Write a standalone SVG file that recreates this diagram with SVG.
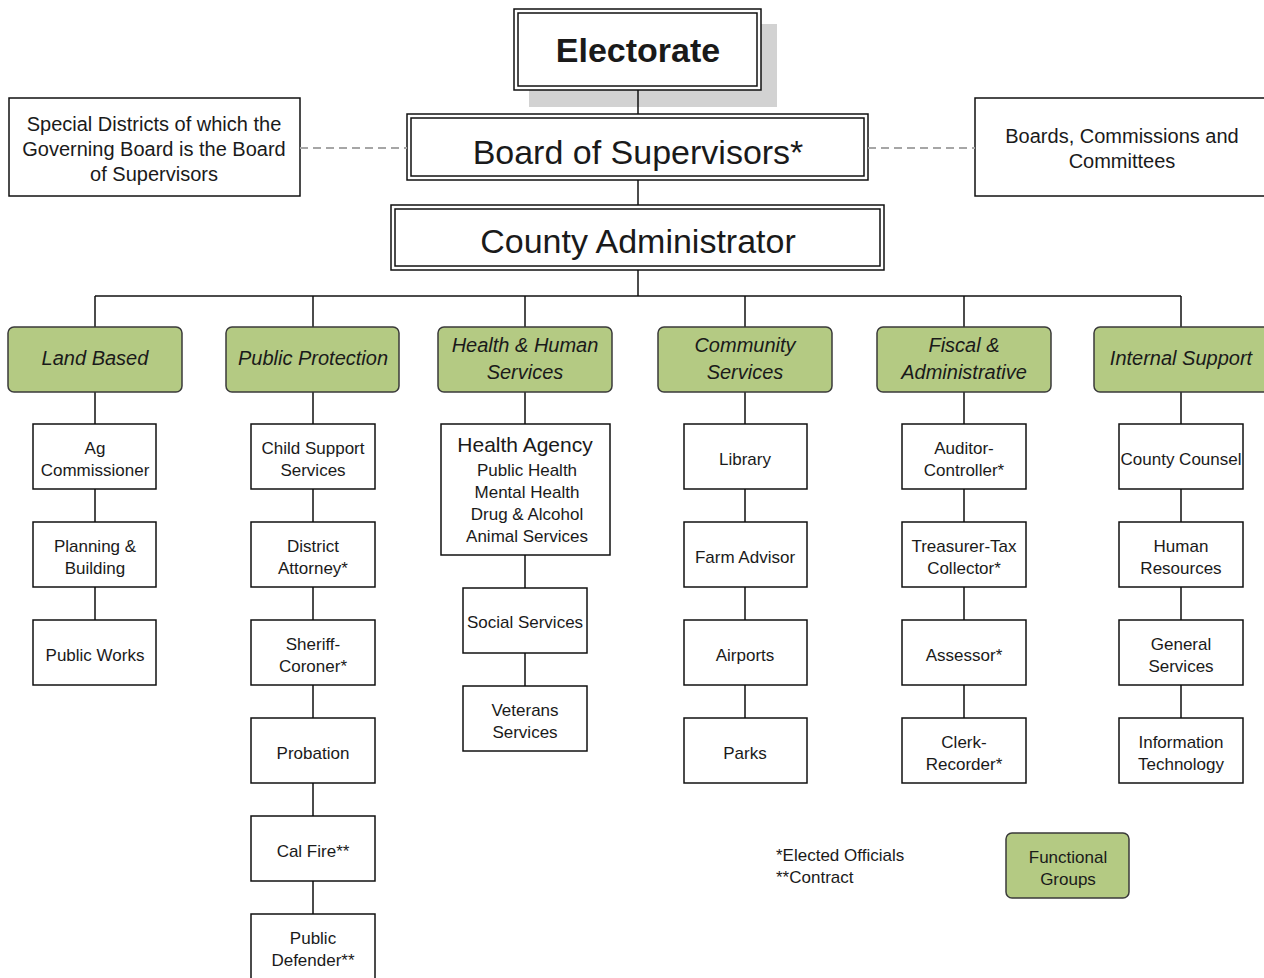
<svg xmlns="http://www.w3.org/2000/svg" width="1264" height="978" viewBox="0 0 1264 978">
<style>
text{font-family:"Liberation Sans",Arial,sans-serif;fill:#1a1a1a;text-anchor:middle}
.box{fill:#fff;stroke:#111;stroke-width:1.5}
.dbl{fill:none;stroke:#111;stroke-width:1.5}
.grp{fill:#b4ca83;stroke:#3a3a3a;stroke-width:1.5}
.gt{font-size:20px;font-style:italic}
.st{font-size:17px}
.big{font-size:34px}
.line{stroke:#111;stroke-width:1.5;fill:none}
.dash{stroke:#a6a6a6;stroke-width:2;stroke-dasharray:8 5;fill:none}
</style>
<rect x="0" y="0" width="1264" height="978" fill="#fff"/>
<g id="electorate">
<rect x="529" y="24" width="248" height="83" fill="#d2d2d2"/>
<rect class="box" x="514" y="9" width="247" height="81"/>
<rect class="dbl" x="518" y="13" width="239" height="73"/>
<text x="638" y="62" style="font-size:34px;font-weight:bold">Electorate</text>
</g>
<g id="board">
<rect class="box" x="407" y="114" width="461" height="66" stroke-width="2"/>
<rect class="dbl" x="411" y="118" width="453" height="58"/>
<text class="big" x="638" y="164">Board of Supervisors*</text>
</g>
<g id="county-admin">
<rect class="box" x="391" y="205" width="493" height="65" stroke-width="2"/>
<rect class="dbl" x="395" y="209" width="485" height="57"/>
<text class="big" x="638" y="253">County Administrator</text>
</g>
<g id="special-districts">
<rect class="box" x="9" y="98" width="291" height="98"/>
<text x="154" y="131" style="font-size:20px">Special Districts of which the</text>
<text x="154" y="156" style="font-size:20px">Governing Board is the Board</text>
<text x="154" y="181" style="font-size:20px">of Supervisors</text>
</g>
<g id="boards-commissions">
<rect class="box" x="975" y="98" width="300" height="98"/>
<text x="1122" y="143" style="font-size:20px">Boards, Commissions and</text>
<text x="1122" y="168" style="font-size:20px">Committees</text>
</g>
<g id="connectors">
<line class="dash" x1="300" y1="148" x2="407" y2="148"/>
<line class="dash" x1="868" y1="148" x2="975" y2="148"/>
<line class="line" x1="638" y1="90" x2="638" y2="114"/>
<line class="line" x1="638" y1="180" x2="638" y2="205"/>
<line class="line" x1="638" y1="270" x2="638" y2="296"/>
<line class="line" x1="95" y1="296" x2="1181" y2="296"/>
<line class="line" x1="95" y1="296" x2="95" y2="327"/>
<line class="line" x1="313" y1="296" x2="313" y2="327"/>
<line class="line" x1="525" y1="296" x2="525" y2="327"/>
<line class="line" x1="745" y1="296" x2="745" y2="327"/>
<line class="line" x1="964" y1="296" x2="964" y2="327"/>
<line class="line" x1="1181" y1="296" x2="1181" y2="327"/>
<path class="line" d="M95 392V424M95 489V522M95 587V620"/>
<path class="line" d="M313 392V424M313 489V522M313 587V620M313 685V718M313 783V816M313 881V914"/>
<path class="line" d="M525 392V424M525 555V588M525 653V686"/>
<path class="line" d="M745 392V424M745 489V522M745 587V620M745 685V718"/>
<path class="line" d="M964 392V424M964 489V522M964 587V620M964 685V718"/>
<path class="line" d="M1181 392V424M1181 489V522M1181 587V620M1181 685V718"/>
</g>
<g id="land-based">
<rect class="grp" x="8" y="327" width="174" height="65" rx="6"/>
<text class="gt" x="95" y="365">Land Based</text>
</g>
<g id="public-protection">
<rect class="grp" x="226" y="327" width="173" height="65" rx="6"/>
<text class="gt" x="313" y="365">Public Protection</text>
</g>
<g id="health-human">
<rect class="grp" x="438" y="327" width="174" height="65" rx="6"/>
<text class="gt" x="525" y="352">Health &amp; Human</text>
<text class="gt" x="525" y="379">Services</text>
</g>
<g id="community">
<rect class="grp" x="658" y="327" width="174" height="65" rx="6"/>
<text class="gt" x="745" y="352">Community</text>
<text class="gt" x="745" y="379">Services</text>
</g>
<g id="fiscal">
<rect class="grp" x="877" y="327" width="174" height="65" rx="6"/>
<text class="gt" x="964" y="352">Fiscal &amp;</text>
<text class="gt" x="964" y="379">Administrative</text>
</g>
<g id="internal-support">
<rect class="grp" x="1094" y="327" width="178" height="65" rx="6"/>
<text class="gt" x="1181" y="365">Internal Support</text>
</g>
<g id="ag-commissioner"><rect class="box" x="33" y="424" width="123" height="65"/><text class="st" x="95" y="454">Ag</text><text class="st" x="95" y="476">Commissioner</text></g>
<g id="planning-building"><rect class="box" x="33" y="522" width="123" height="65"/><text class="st" x="95" y="552">Planning &amp;</text><text class="st" x="95" y="574">Building</text></g>
<g id="public-works"><rect class="box" x="33" y="620" width="123" height="65"/><text class="st" x="95" y="661">Public Works</text></g>
<g id="child-support"><rect class="box" x="251" y="424" width="124" height="65"/><text class="st" x="313" y="454">Child Support</text><text class="st" x="313" y="476">Services</text></g>
<g id="district-attorney"><rect class="box" x="251" y="522" width="124" height="65"/><text class="st" x="313" y="552">District</text><text class="st" x="313" y="574">Attorney*</text></g>
<g id="sheriff-coroner"><rect class="box" x="251" y="620" width="124" height="65"/><text class="st" x="313" y="650">Sheriff-</text><text class="st" x="313" y="672">Coroner*</text></g>
<g id="probation"><rect class="box" x="251" y="718" width="124" height="65"/><text class="st" x="313" y="759">Probation</text></g>
<g id="cal-fire"><rect class="box" x="251" y="816" width="124" height="65"/><text class="st" x="313" y="857">Cal Fire**</text></g>
<g id="public-defender"><rect class="box" x="251" y="914" width="124" height="70"/><text class="st" x="313" y="944">Public</text><text class="st" x="313" y="966">Defender**</text></g>
<g id="health-agency"><rect class="box" x="441" y="424" width="169" height="131"/><text x="525" y="452" style="font-size:21px">Health Agency</text><text class="st" x="527" y="476">Public Health</text><text class="st" x="527" y="498">Mental Health</text><text class="st" x="527" y="520">Drug &amp; Alcohol</text><text class="st" x="527" y="542">Animal Services</text></g>
<g id="social-services"><rect class="box" x="463" y="588" width="124" height="65"/><text class="st" x="525" y="628">Social Services</text></g>
<g id="veterans-services"><rect class="box" x="463" y="686" width="124" height="65"/><text class="st" x="525" y="716">Veterans</text><text class="st" x="525" y="738">Services</text></g>
<g id="library"><rect class="box" x="684" y="424" width="123" height="65"/><text class="st" x="745" y="465">Library</text></g>
<g id="farm-advisor"><rect class="box" x="684" y="522" width="123" height="65"/><text class="st" x="745" y="563">Farm Advisor</text></g>
<g id="airports"><rect class="box" x="684" y="620" width="123" height="65"/><text class="st" x="745" y="661">Airports</text></g>
<g id="parks"><rect class="box" x="684" y="718" width="123" height="65"/><text class="st" x="745" y="759">Parks</text></g>
<g id="auditor-controller"><rect class="box" x="902" y="424" width="124" height="65"/><text class="st" x="964" y="454">Auditor-</text><text class="st" x="964" y="476">Controller*</text></g>
<g id="treasurer"><rect class="box" x="902" y="522" width="124" height="65"/><text class="st" x="964" y="552">Treasurer-Tax</text><text class="st" x="964" y="574">Collector*</text></g>
<g id="assessor"><rect class="box" x="902" y="620" width="124" height="65"/><text class="st" x="964" y="661">Assessor*</text></g>
<g id="clerk-recorder"><rect class="box" x="902" y="718" width="124" height="65"/><text class="st" x="964" y="748">Clerk-</text><text class="st" x="964" y="770">Recorder*</text></g>
<g id="county-counsel"><rect class="box" x="1119" y="424" width="124" height="65"/><text class="st" x="1181" y="465">County Counsel</text></g>
<g id="human-resources"><rect class="box" x="1119" y="522" width="124" height="65"/><text class="st" x="1181" y="552">Human</text><text class="st" x="1181" y="574">Resources</text></g>
<g id="general-services"><rect class="box" x="1119" y="620" width="124" height="65"/><text class="st" x="1181" y="650">General</text><text class="st" x="1181" y="672">Services</text></g>
<g id="information-technology"><rect class="box" x="1119" y="718" width="124" height="65"/><text class="st" x="1181" y="748">Information</text><text class="st" x="1181" y="770">Technology</text></g>
<g id="legend">
<text class="st" x="776" y="861" style="text-anchor:start">*Elected Officials</text>
<text class="st" x="776" y="883" style="text-anchor:start">**Contract</text>
</g>
<g id="functional-groups">
<rect class="grp" x="1006" y="833" width="123" height="65" rx="6"/>
<text class="st" x="1068" y="863">Functional</text>
<text class="st" x="1068" y="885">Groups</text>
</g>
</svg>
